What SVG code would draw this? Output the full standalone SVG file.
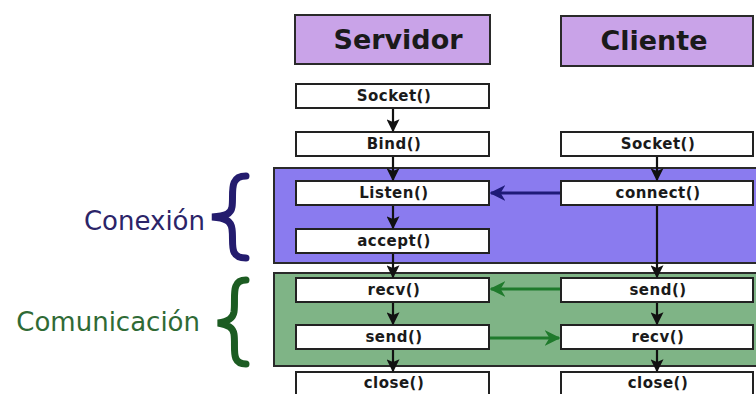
<svg xmlns="http://www.w3.org/2000/svg" width="756" height="394" viewBox="0 0 756 394">
<defs>
<marker id="ah" viewBox="0 0 10 10" refX="9" refY="5" markerWidth="13" markerHeight="13" markerUnits="userSpaceOnUse" orient="auto"><path d="M0,0 L10,5 L0,10 L2,5 Z" fill="#111"/></marker>
<marker id="ahb" viewBox="0 0 10 10" refX="9" refY="5" markerWidth="16" markerHeight="16" markerUnits="userSpaceOnUse" orient="auto"><path d="M0,0 L10,5 L0,10 L3,5 Z" fill="#1e1a78"/></marker>
<marker id="ahg" viewBox="0 0 10 10" refX="9" refY="5" markerWidth="16" markerHeight="16" markerUnits="userSpaceOnUse" orient="auto"><path d="M0,0 L10,5 L0,10 L3,5 Z" fill="#1f7a2c"/></marker>
</defs>
<style>
.hdr{fill:#c9a3e8;stroke:#2a2a2a;stroke-width:2}
.hdrt{font-family:"DejaVu Sans",sans-serif;font-weight:bold;font-size:27px;fill:#1a1a1a;text-anchor:middle}
.box{fill:#ffffff;stroke:#222;stroke-width:2}
.bt{font-family:"DejaVu Sans",sans-serif;font-weight:bold;font-size:15px;letter-spacing:0.5px;fill:#1a1a1a;text-anchor:middle}
.v{stroke:#111;stroke-width:2.2;fill:none;marker-end:url(#ah)}
.lbl{font-family:"DejaVu Sans",sans-serif;font-size:26px;text-anchor:end}
</style>
<rect width="756" height="394" fill="#ffffff"/>
<g id="region-conexion">
<rect x="274" y="168" width="490" height="95" fill="#8a7bef" stroke="#2a2a2a" stroke-width="2"/>
</g>
<g id="region-comunicacion">
<rect x="274" y="273" width="490" height="93" fill="#7fb486" stroke="#2a2a2a" stroke-width="2"/>
</g>
<g id="label-conexion">
<text class="lbl" x="205" y="230" fill="#2b2468">Conexión</text>
<path d="M246,176 C228,176 234,194 232,207 C231,214 226,216 212,217 C226,218 231,221 232,229 C234,243 228,258 246,258" fill="none" stroke="#241c6e" stroke-width="7" stroke-linecap="round"/>
</g>
<g id="label-comunicacion">
<text class="lbl" x="200" y="331" fill="#2f6a35">Comunicación</text>
<path d="M246,280 C230,280 236,298 234,312 C233,318 229,321 218,323 C229,325 233,328 234,334 C236,348 230,364 246,364" fill="none" stroke="#1c5c22" stroke-width="7" stroke-linecap="round"/>
</g>
<g id="servidor"><rect class="hdr" x="295" y="15" width="195" height="49"/><text class="hdrt" x="398" y="49">Servidor</text></g>
<g id="cliente"><rect class="hdr" x="561" y="16" width="192" height="50"/><text class="hdrt" x="654" y="50">Cliente</text></g>
<g id="s-socket"><rect class="box" x="296" y="84" width="193" height="24"/><text class="bt" x="394" y="101">Socket()</text></g>
<g id="s-bind"><rect class="box" x="296" y="132" width="193" height="24"/><text class="bt" x="394" y="149">Bind()</text></g>
<g id="s-listen"><rect class="box" x="296" y="181" width="193" height="24"/><text class="bt" x="394" y="198">Listen()</text></g>
<g id="s-accept"><rect class="box" x="296" y="229" width="193" height="24"/><text class="bt" x="394" y="246">accept()</text></g>
<g id="s-recv"><rect class="box" x="296" y="278" width="193" height="24"/><text class="bt" x="394" y="295">recv()</text></g>
<g id="s-send"><rect class="box" x="296" y="325" width="193" height="24"/><text class="bt" x="394" y="342">send()</text></g>
<g id="s-close"><rect class="box" x="296" y="372" width="193" height="30"/><text class="bt" x="394" y="388">close()</text></g>
<g id="c-socket"><rect class="box" x="561" y="132" width="192" height="24"/><text class="bt" x="658" y="149">Socket()</text></g>
<g id="c-connect"><rect class="box" x="561" y="181" width="192" height="24"/><text class="bt" x="658" y="198">connect()</text></g>
<g id="c-send"><rect class="box" x="561" y="278" width="192" height="24"/><text class="bt" x="658" y="295">send()</text></g>
<g id="c-recv"><rect class="box" x="561" y="325" width="192" height="24"/><text class="bt" x="658" y="342">recv()</text></g>
<g id="c-close"><rect class="box" x="561" y="372" width="192" height="30"/><text class="bt" x="658" y="388">close()</text></g>
<g id="connectors">
<line class="v" x1="393" y1="109" x2="393" y2="131"/>
<line class="v" x1="393" y1="157" x2="393" y2="180"/>
<line class="v" x1="393" y1="206" x2="393" y2="228"/>
<line class="v" x1="393" y1="254" x2="393" y2="277"/>
<line class="v" x1="393" y1="303" x2="393" y2="324"/>
<line class="v" x1="393" y1="350" x2="393" y2="371"/>
<line class="v" x1="657" y1="157" x2="657" y2="180"/>
<line class="v" x1="657" y1="206" x2="657" y2="277"/>
<line class="v" x1="657" y1="303" x2="657" y2="324"/>
<line class="v" x1="657" y1="350" x2="657" y2="371"/>
<line x1="560" y1="193" x2="491" y2="193" stroke="#1e1a78" stroke-width="3" marker-end="url(#ahb)"/>
<line x1="560" y1="289" x2="491" y2="289" stroke="#1f7a2c" stroke-width="3" marker-end="url(#ahg)"/>
<line x1="490" y1="338" x2="559" y2="338" stroke="#1f7a2c" stroke-width="3" marker-end="url(#ahg)"/>
</g>
</svg>
